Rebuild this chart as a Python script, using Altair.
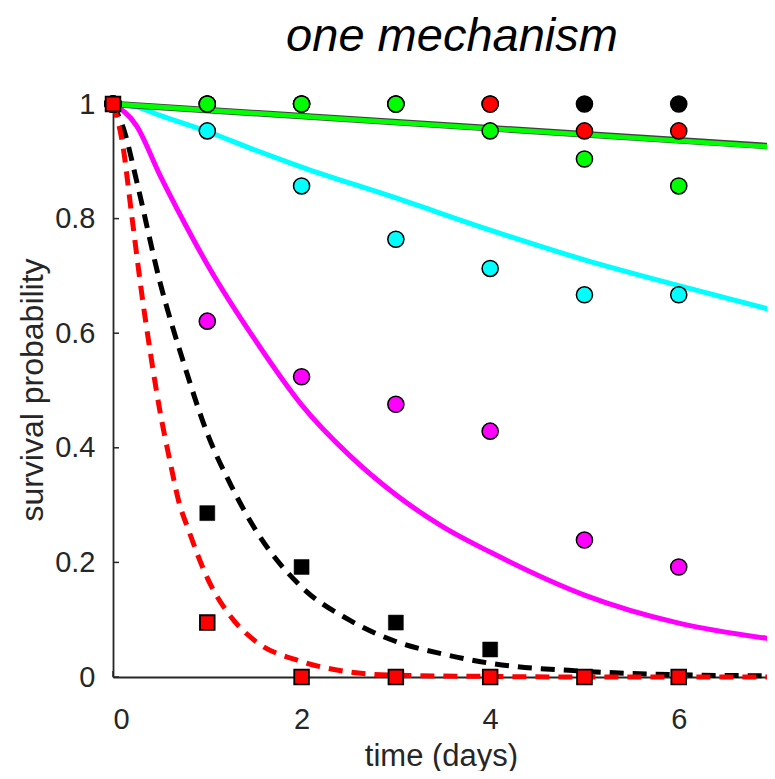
import altair as alt
import pandas as pd

# ---- observed points ----
days = [0, 1, 2, 3, 4, 5, 6]
black_circ = [1, 1, 1, 1, 1, 1, 1]
red_circ = [1, 1, 1, 1, 1, 0.953, 0.953]
green_circ = [1, 1, 1, 1, 0.953, 0.904, 0.857]
cyan_circ = [1, 0.953, 0.857, 0.764, 0.713, 0.667, 0.667]
magenta_circ = [1, 0.621, 0.524, 0.476, 0.429, 0.239, 0.192]
black_sq = [1, 0.286, 0.192, 0.095, 0.048, 0, 0]
red_sq = [1, 0.095, 0, 0, 0, 0, 0]

# ---- model curves ----
flat_t = [0, 7]
black_flat = [1, 0.926]
green_flat = [1, 0.925]
cyan_t = [0, 0.25, 0.5, 1, 1.5, 2, 3, 4, 5, 6, 7]
cyan_curve = [1, 0.995, 0.98, 0.952, 0.92, 0.89, 0.836, 0.78, 0.728, 0.683, 0.64]
magenta_t = [0, 0.25, 0.5, 0.75, 1, 1.5, 2, 2.5, 3, 3.5, 4, 5, 6, 7]
magenta_curve = [1, 0.962, 0.875, 0.795, 0.72, 0.59, 0.475, 0.388, 0.318, 0.262,
                 0.218, 0.143, 0.094, 0.066]
blackd_t = [0, 0.125, 0.25, 0.5, 0.75, 1, 1.25, 1.5, 2, 2.5, 3, 3.5, 4, 5, 6, 7]
blackd_curve = [1, 0.95, 0.866, 0.688, 0.548, 0.425, 0.335, 0.26, 0.157, 0.1,
                0.062, 0.04, 0.024, 0.01, 0.004, 0.002]
redd_t = [0, 0.1, 0.2, 0.3, 0.4, 0.5, 0.6, 0.7, 0.8, 1, 1.25, 1.5, 2, 2.5, 3, 4, 5, 6, 7]
redd_curve = [1, 0.932, 0.804, 0.675, 0.562, 0.462, 0.38, 0.305, 0.257, 0.173,
              0.105, 0.064, 0.027, 0.009, 0.003, 0.001, 0, 0, 0]

y_ticks = [0, 0.2, 0.4, 0.6, 0.8, 1]
x_ticks = [0, 2, 4, 6]
x_max = 6.936

W, H = 654, 573
AX = "#262626"
FONT = "Liberation Sans"

xs = alt.Scale(domain=[0, x_max], nice=False, zero=False)
ys = alt.Scale(domain=[0, 1], nice=False)

x_enc = alt.X("t:Q", scale=xs, axis=alt.Axis(
    values=x_ticks, format="~g", title="time (days)", grid=False, ticks=False,
    tickSize=0, labelPadding=28, labelFontSize=29, labelFont=FONT, labelColor=AX,
    domainColor=AX, domainWidth=1.8, titleFont=FONT, titleFontSize=31,
    titleFontWeight="normal", titleColor=AX, titleX=328, titleY=88,
    titleBaseline="alphabetic"))
y_enc = alt.Y("v:Q", scale=ys, axis=alt.Axis(
    values=y_ticks, format="~g", title="survival probability", grid=False,
    ticks=False, tickSize=0, labelPadding=18, labelFontSize=29, labelFont=FONT,
    labelColor=AX, domainColor=AX, domainWidth=1.8, titleFont=FONT,
    titleFontSize=32, titleFontWeight="normal", titleColor=AX, titleX=-81,
    titleY=H / 2 - 1, titleBaseline="middle", titleAngle=270))


def df(t, v):
    return pd.DataFrame({"t": t, "v": v})


def line(t, v, color, width=5, dash=None):
    kw = dict(color=color, strokeWidth=width, interpolate="monotone", strokeCap="butt")
    if dash:
        kw["strokeDash"] = dash
    return alt.Chart(df(t, v)).mark_line(**kw).encode(x=x_enc, y=y_enc)


def pts(v, color, shape, size, stroke="black", sw=1.5):
    return alt.Chart(df(days, v)).mark_point(
        shape=shape, filled=True, fill=color, stroke=stroke, strokeWidth=sw,
        size=size, opacity=1).encode(x=x_enc, y=y_enc)


ytick_layer = alt.Chart(pd.DataFrame({"v": y_ticks})).mark_rule(
    color=AX, strokeWidth=1.5).encode(y=y_enc, x=alt.value(0), x2=alt.value(6))
xtick_layer = alt.Chart(pd.DataFrame({"t": x_ticks})).mark_rule(
    color=AX, strokeWidth=1.5).encode(x=x_enc, y=alt.value(H), y2=alt.value(H - 6))

chart = alt.layer(
    ytick_layer, xtick_layer,
    line(magenta_t, magenta_curve, "#ff00ff"),
    line(cyan_t, cyan_curve, "#00ffff"),
    line(flat_t, black_flat, "#404040", 6.5),
    line(flat_t, green_flat, "#00ff00", 4.8),
    line(blackd_t, blackd_curve, "black", 5, [14, 9]),
    line(redd_t, redd_curve, "#ff0000", 5, [14, 9]),
    pts(black_circ, "black", "circle", 260),
    pts(red_circ, "#ff0000", "circle", 260),
    pts(green_circ, "#00ff00", "circle", 260),
    pts(cyan_circ, "#00ffff", "circle", 260),
    pts(magenta_circ, "#ff00ff", "circle", 260),
    pts(black_sq, "black", "square", 225, stroke="black", sw=0.5),
    pts(red_sq, "#ff0000", "square", 215, stroke="black", sw=1.8),
).properties(
    width=W, height=H,
    title=alt.TitleParams("one mechanism", font=FONT, fontSize=47, fontStyle="italic",
                          fontWeight="normal", color="black", anchor="middle",
                          offset=29, dx=12),
    autosize=alt.AutoSizeParams(type="none"),
    padding={"left": 105, "top": 96, "right": 0, "bottom": 94},
).configure(background="white").configure_view(
    strokeWidth=0, strokeOpacity=0).configure_axis(grid=False)

chart.save("out.html", embed_options={"renderer": "svg", "actions": False})
